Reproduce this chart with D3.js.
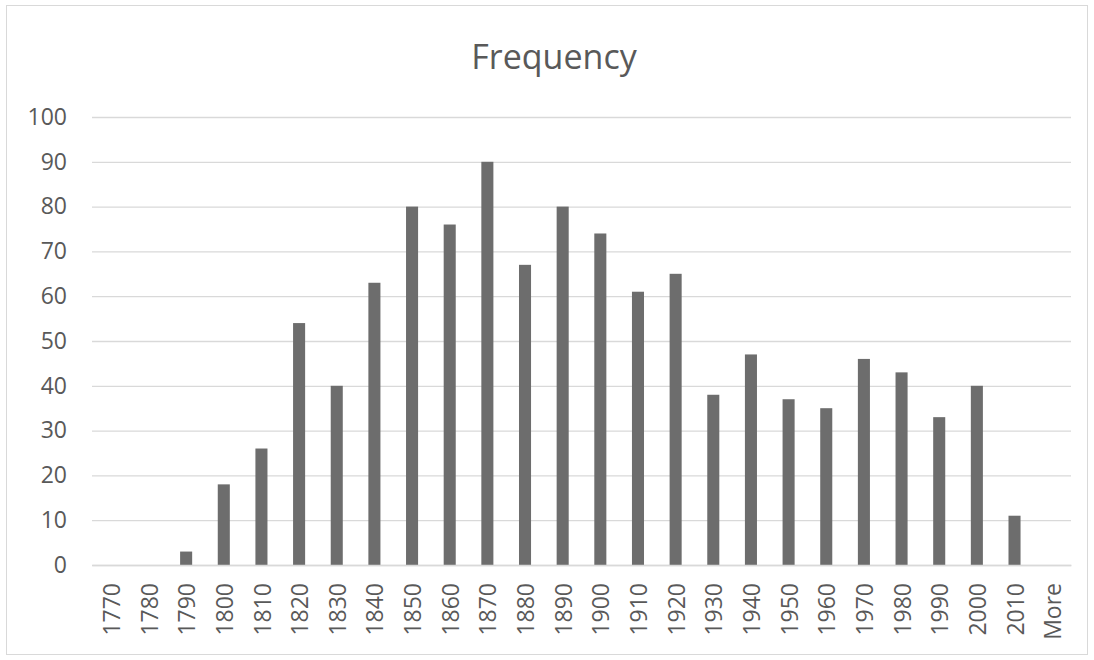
<!DOCTYPE html>
<html><head><meta charset="utf-8">
<script src="https://cdn.jsdelivr.net/npm/d3@7"></script>
<style>body{margin:0;background:#fff}svg{display:block}</style>
</head><body><svg id="c" width="1094" height="660"></svg>
<script>
const categories = ["1770","1780","1790","1800","1810","1820","1830","1840","1850","1860","1870","1880","1890","1900","1910","1920","1930","1940","1950","1960","1970","1980","1990","2000","2010","More"];
const frequency = [0,0,3,18,26,54,40,63,80,76,90,67,80,74,61,65,38,47,37,35,46,43,33,40,11,0];
const yTicks = [0,10,20,30,40,50,60,70,80,90,100];

const FONT = "'Open Sans', 'Noto Sans', sans-serif";
const svg = d3.select("#c");
svg.append("rect").attr("x",6.5).attr("y",5.5).attr("width",1081).attr("height",649).attr("fill","#fff").attr("stroke","#d9d9d9");
const m = {l:92, r:1071, t:117, b:565};
const x = d3.scaleBand().domain(categories).range([m.l,m.r]).paddingInner(0.68).paddingOuter(0.34);
const y = d3.scaleLinear().domain([0,100]).range([m.b,m.t]);

const gy = svg.append("g").attr("transform",`translate(${m.l},0)`)
  .call(d3.axisLeft(y).tickValues(yTicks).tickSize(-(m.r-m.l)).tickPadding(25));
gy.select(".domain").remove();
gy.selectAll(".tick line").attr("stroke","#d9d9d9").attr("stroke-width",1.3);
gy.selectAll(".tick text").style("font-size","23px").style("font-family",FONT).style("fill","#595959");

svg.append("g").selectAll("rect").data(frequency).join("rect")
  .attr("x",(d,i)=>x(categories[i])).attr("width",x.bandwidth())
  .attr("y",d=>y(d)).attr("height",d=>y(0)-y(d)).attr("fill","#6d6d6d");

const gx = svg.append("g").attr("transform",`translate(0,${m.b})`)
  .call(d3.axisBottom(x).tickSize(0).tickPadding(0));
gx.select(".domain").attr("stroke","#d9d9d9").attr("stroke-width",1.3);
gx.selectAll(".tick text").attr("text-anchor","end")
  .attr("transform","translate(1,18) rotate(-90)").attr("dx",0).attr("dy","0.35em").attr("y",0)
  .style("font-size","23px").style("font-family",FONT).style("fill","#595959");

svg.append("text").attr("x",554).attr("y",69).attr("text-anchor","middle")
  .style("font-size","34px").style("font-family",FONT).style("fill","#595959").text("Frequency");
</script></body></html>
